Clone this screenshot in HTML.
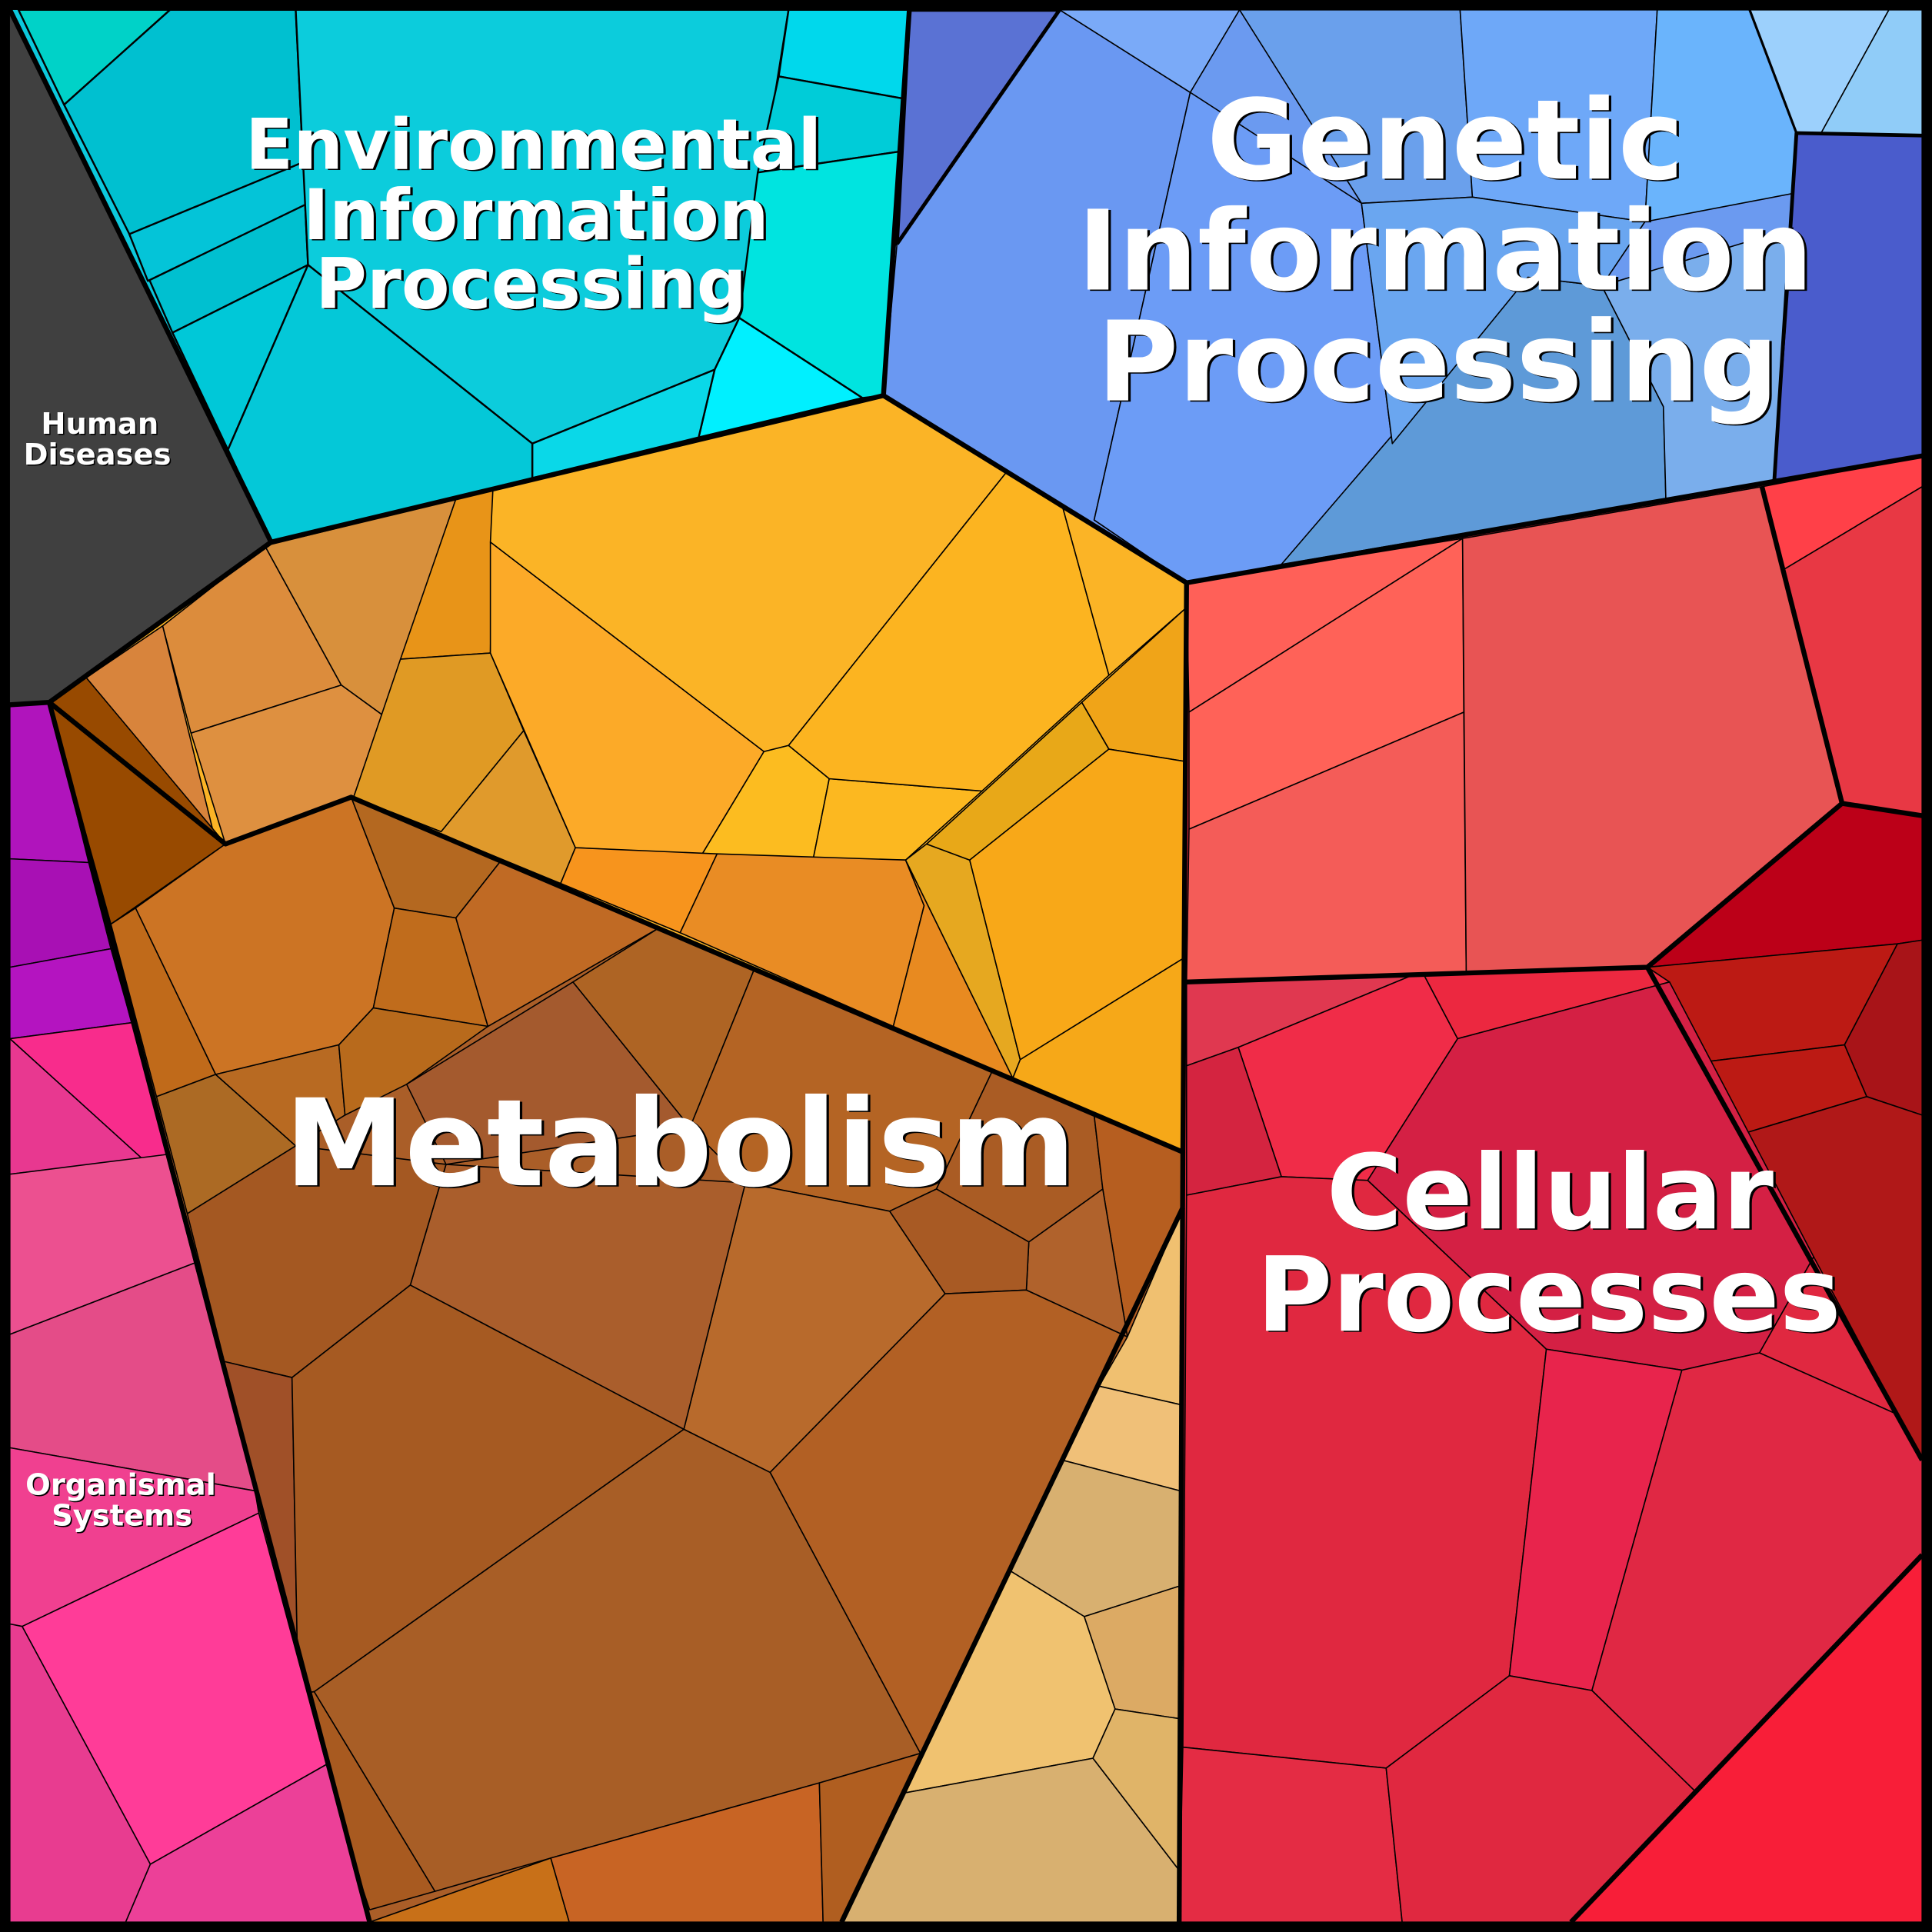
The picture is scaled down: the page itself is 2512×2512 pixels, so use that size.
<!DOCTYPE html>
<html><head><meta charset="utf-8"><style>
html,body{margin:0;padding:0;background:#000}
svg{display:block}
.t{font-family:"DejaVu Sans","Liberation Sans",sans-serif;font-weight:bold;fill:#fff;text-anchor:middle}
</style></head><body>
<svg width="2512" height="2512" viewBox="0 0 1568 1568" xmlns="http://www.w3.org/2000/svg">
<rect width="1568" height="1568" fill="#000"/>
<g stroke="none">
<polygon fill="#404040" points="8,8 220,440 40,570 8,572"/>
<polygon fill="#0cc8dc" points="8,8 738,8 717,321 220,440"/>
<polygon fill="#6b9af0" points="738,8 1560,8 1560,370 963,473 717,321"/>
<polygon fill="#fbb426" points="220,440 717,321 963,473 960,935 285,647 183,685 40,570"/>
<polygon fill="#aa5e28" points="285,647 960,935 960,980 683,1560 300,1560 90,750 183,685"/>
<polygon fill="#e0b070" points="960,980 957,1560 683,1560"/>
<polygon fill="#e0283c" points="963,473 1560,370 1560,1560 957,1560"/>
<polygon fill="#e84c8c" points="8,572 40,570 300,1560 8,1560"/>
</g>
<g stroke="#000" stroke-width="1" stroke-linejoin="round">
<g stroke-width="1.5">
<polygon fill="#00d2c8" points="15,8 138,8 52,85"/>
<polygon fill="#00c0d0" points="52,85 138,8 240,8 250,215 140,270 105,190"/>
<polygon fill="#04c4d8" points="105,190 250,130 250,165 120,228"/>
<polygon fill="#0cccdc" points="240,8 640,8 600,258 580,300 432,360 250,215"/>
<polygon fill="#00d8ec" points="640,8 738,8 733,80 632,62"/>
<polygon fill="#00ccd8" points="632,62 733,80 730,123 615,140"/>
<polygon fill="#00e4e0" points="615,140 730,123 717,321 700,323 600,258"/>
<polygon fill="#00f0ff" points="600,258 700,323 567,355 580,300"/>
<polygon fill="#0ad8e8" points="432,360 580,300 567,355 432,388"/>
<polygon fill="#00c8d8" points="140,270 250,215 185,365"/>
<polygon fill="#04c8d8" points="250,215 432,360 432,388 220,440 185,365"/>
</g>
<polygon fill="#5a72d4" points="738,8 860,8 728,198" stroke-width="3"/>
<polygon fill="#6a98f2" points="860,8 966,75 888,422 963,473 717,321 728,198"/>
<polygon fill="#7aaaf8" points="860,8 1006,8 966,75"/>
<polygon fill="#6aa0ec" points="1006,8 1185,8 1195,160 1105,165"/>
<polygon fill="#6ea8f8" points="1185,8 1345,8 1335,180 1195,160"/>
<polygon fill="#6ab4fc" points="1345,8 1420,8 1458,108 1455,157 1335,180"/>
<polygon fill="#9cd0fc" points="1420,8 1533,8 1478,108 1458,108"/>
<polygon fill="#90ccf8" points="1533,8 1560,8 1560,110 1478,108"/>
<polygon fill="#4a5ccc" points="1458,108 1560,110 1560,370 1440,390 1455,157"/>
<polygon fill="#6c9cf6" points="966,75 1105,165 1130,360 1040,458 963,473 888,422"/>
<polygon fill="#5e9ad8" points="1040,458 1240,225 1300,232 1350,330 1352,405"/>
<polygon fill="#7aaeec" points="1300,232 1455,185 1440,390 1352,405 1350,330"/>
<polygon fill="#6aa6f0" points="1105,165 1195,160 1335,180 1300,232 1240,225 1130,360"/>
<polygon fill="#dc8c3c" points="132,508 215,443 277,556 155,595"/>
<polygon fill="#d8903c" points="215,443 370,405 310,580 277,556"/>
<polygon fill="#de9040" points="155,595 277,556 310,580 287,647 183,685"/>
<polygon fill="#d8843c" points="70,550 132,508 175,683"/>
<polygon fill="#984a00" points="40,570 70,550 183,685 90,750"/>
<polygon fill="#e89418" points="370,405 400,398 398,530 325,535"/>
<polygon fill="#e09a24" points="325,535 398,530 425,593 358,675 287,647"/>
<polygon fill="#e09a2c" points="358,675 425,593 467,688 455,717 285,647"/>
<polygon fill="#fbb426" points="400,398 717,321 817,383 640,605 620,610 398,440"/>
<polygon fill="#fcaa28" points="398,440 620,610 570,693 467,688 398,530"/>
<polygon fill="#fcbc20" points="570,693 620,610 640,605 673,632 660,697"/>
<polygon fill="#fcb820" points="673,632 797,642 735,698 660,697"/>
<polygon fill="#f7941d" points="467,688 582,693 552,757 455,717"/>
<polygon fill="#e98c24" points="582,693 735,698 750,735 725,833 552,757"/>
<polygon fill="#e88a20" points="735,698 822,875 725,833 750,735"/>
<polygon fill="#e6a820" points="735,698 752,685 787,698 828,860 822,875"/>
<polygon fill="#e8a818" points="752,685 878,570 900,608 787,698"/>
<polygon fill="#f0a418" points="878,570 963,493 962,618 900,608"/>
<polygon fill="#f8a818" points="787,698 900,608 962,618 960,778 828,860"/>
<polygon fill="#f6a818" points="828,860 960,778 960,935 822,875"/>
<polygon fill="#fcb420" points="817,383 862,410 900,548 797,642 673,632 640,605"/>
<polygon fill="#fbb426" points="862,410 963,473 963,493 900,548"/>
<polygon fill="#cc7424" points="183,685 285,647 320,737 303,818 275,848 175,872 110,737"/>
<polygon fill="#c06a1a" points="90,750 110,737 175,872 127,890"/>
<polygon fill="#ac6a24" points="127,890 175,872 240,930 152,985"/>
<polygon fill="#b86a22" points="175,872 275,848 280,905 240,930"/>
<polygon fill="#b46820" points="285,647 407,698 370,745 320,737"/>
<polygon fill="#c06c1c" points="320,737 370,745 396,833 303,818"/>
<polygon fill="#c06a24" points="407,698 535,753 396,833 370,745"/>
<polygon fill="#b86a1c" points="275,848 303,818 396,833 330,880 280,905"/>
<polygon fill="#ae6424" points="535,753 612,787 560,915 465,797"/>
<polygon fill="#a45a2e" points="330,880 465,797 560,915 362,945"/>
<polygon fill="#b46424" points="612,787 805,870 760,965 722,983 605,960 560,915"/>
<polygon fill="#aa5c24" points="805,870 888,905 895,965 835,1008 760,965"/>
<polygon fill="#b65e20" points="888,905 960,935 960,980 915,1085 895,965"/>
<polygon fill="#b0622c" points="835,1008 895,965 915,1085 833,1047"/>
<polygon fill="#a85a24" points="722,983 760,965 835,1008 833,1047 767,1050"/>
<polygon fill="#b86a2c" points="605,960 722,983 767,1050 625,1195 555,1160"/>
<polygon fill="#aa5e2c" points="333,1043 362,945 605,960 555,1160"/>
<polygon fill="#a45822" points="152,985 240,930 362,945 333,1043 237,1118 182,1105"/>
<polygon fill="#a05028" points="182,1105 237,1118 242,1375"/>
<polygon fill="#a65a22" points="237,1118 333,1043 555,1160 255,1373 242,1375"/>
<polygon fill="#b26024" points="625,1195 767,1050 833,1047 915,1085 747,1423"/>
<polygon fill="#a85e26" points="255,1373 555,1160 625,1195 747,1423 665,1447 447,1508 353,1535"/>
<polygon fill="#a85a20" points="255,1373 353,1535 300,1550 242,1375"/>
<polygon fill="#c87018" points="300,1560 447,1508 462,1560"/>
<polygon fill="#c86424" points="447,1508 665,1447 668,1560 462,1560"/>
<polygon fill="#b05e20" points="665,1447 747,1423 683,1560 668,1560"/>
<polygon fill="#f0c070" points="915,1085 960,980 958,1140 892,1125"/>
<polygon fill="#f0c078" points="892,1125 958,1140 958,1210 862,1185"/>
<polygon fill="#d8b070" points="862,1185 958,1210 958,1287 880,1312 820,1275"/>
<polygon fill="#f0c270" points="820,1275 880,1312 905,1387 887,1427 735,1455"/>
<polygon fill="#dcaa64" points="880,1312 958,1287 958,1395 905,1387"/>
<polygon fill="#e0b468" points="905,1387 958,1395 957,1518 887,1427"/>
<polygon fill="#d8b070" points="735,1455 887,1427 957,1518 957,1560 683,1560"/>
<polygon fill="#ff6058" points="963,473 1187,437 965,578"/>
<polygon fill="#ff6258" points="965,578 1187,437 1188,578 965,673"/>
<polygon fill="#f45c58" points="965,673 1188,578 1190,790 963,797"/>
<polygon fill="#e85454" points="1187,437 1430,395 1495,652 1337,785 1190,790"/>
<polygon fill="#ff4048" points="1430,395 1560,370 1560,395 1448,462"/>
<polygon fill="#e83844" points="1448,462 1560,395 1560,662 1495,652"/>
<polygon fill="#bc0018" points="1337,785 1495,652 1560,662 1560,763 1540,766"/>
<polygon fill="#bc1a14" points="1337,785 1540,766 1497,848 1382,862"/>
<polygon fill="#a81418" points="1540,766 1560,763 1560,905 1515,890 1497,848"/>
<polygon fill="#bc1a14" points="1382,862 1497,848 1515,890 1415,920"/>
<polygon fill="#b01818" points="1415,920 1515,890 1560,905 1560,1185"/>
<polygon fill="#e03850" points="963,797 1145,792 1005,850 963,865"/>
<polygon fill="#f02c48" points="1005,850 1145,792 1155,790 1183,843 1110,958 1040,955"/>
<polygon fill="#ec2840" points="1155,790 1337,785 1355,797 1183,843"/>
<polygon fill="#d42044" points="1183,843 1355,797 1472,1020 1428,1098 1365,1112 1255,1095 1110,958"/>
<polygon fill="#d42440" points="963,865 1005,850 1040,955 963,970"/>
<polygon fill="#e02840" points="963,970 1040,955 1110,958 1255,1095 1225,1360 1125,1435 960,1418"/>
<polygon fill="#e02840" points="1428,1098 1472,1020 1540,1148"/>
<polygon fill="#e8244c" points="1255,1095 1365,1112 1292,1372 1225,1360"/>
<polygon fill="#e02844" points="1365,1112 1428,1098 1540,1148 1560,1185 1560,1262 1377,1455 1292,1372"/>
<polygon fill="#f81e38" points="1275,1560 1560,1262 1560,1560"/>
<polygon fill="#e42c44" points="960,1418 1125,1435 1138,1560 957,1560"/>
<polygon fill="#e02840" points="1125,1435 1225,1360 1292,1372 1377,1455 1275,1560 1138,1560"/>
<polygon fill="#b014bc" points="8,572 40,570 72,700 8,697"/>
<polygon fill="#a810b4" points="8,697 72,700 90,770 8,785"/>
<polygon fill="#b414c0" points="8,785 90,770 107,830 8,843"/>
<polygon fill="#f82c8c" points="8,843 107,830 135,937 115,940"/>
<polygon fill="#e83890" points="8,843 115,940 8,953"/>
<polygon fill="#ec5090" points="8,953 135,937 158,1025 8,1083"/>
<polygon fill="#e44c88" points="8,1083 158,1025 207,1210 8,1175"/>
<polygon fill="#f04090" points="8,1175 207,1210 210,1228 18,1320 8,1318"/>
<polygon fill="#ff3c98" points="18,1320 210,1228 265,1432 122,1513"/>
<polygon fill="#e83c90" points="8,1318 18,1320 122,1513 102,1560 8,1560"/>
<polygon fill="#ec4098" points="122,1513 265,1432 300,1560 102,1560"/>
</g>
<g fill="none" stroke="#000" stroke-width="4" stroke-linejoin="round">
<polyline points="8,8 220,440 40,570 8,572"/>
<polyline points="220,440 717,321 738,8"/>
<polyline points="717,321 963,473 1560,370"/>
<polyline points="963,473 960,935 285,647 183,685 40,570"/>
<polyline points="40,570 300,1560"/>
<polyline points="960,935 957,1560"/>
<polyline points="960,980 683,1560"/>
<polyline points="963,797 1337,785 1495,652 1560,662"/>
<polyline points="1430,395 1495,652"/>
<polyline points="1337,785 1560,1185"/>
<polyline points="1275,1560 1560,1262"/>
<polyline points="728,198 860,8" stroke-width="3"/>
<polyline points="1440,390 1458,108 1560,110" stroke-width="3"/>
<polyline points="1420,8 1458,108" stroke-width="2"/>
<rect x="4" y="4" width="1560" height="1560" stroke-width="8"/>
</g>
<g fill="#000" font-family="DejaVu Sans, Liberation Sans, sans-serif" font-weight="bold" text-anchor="middle">
<text x="435" y="138" font-size="57">Environmental</text>
<text x="437" y="195" font-size="57">Information</text>
<text x="433" y="251" font-size="57">Processing</text>
<text x="1175" y="146" font-size="90">Genetic</text>
<text x="1175" y="236" font-size="90">Information</text>
<text x="1169" y="326" font-size="90">Processing</text>
<text x="554" y="963" font-size="98">Metabolism</text>
<text x="1260" y="998" font-size="84">Cellular</text>
<text x="1259" y="1081" font-size="84">Processes</text>
<text x="82" y="353" font-size="24">Human</text>
<text x="80" y="378" font-size="24">Diseases</text>
<text x="99" y="1214" font-size="24">Organismal</text>
<text x="100" y="1239" font-size="24">Systems</text>
</g>
<g class="t">
<text x="433" y="137" font-size="57">Environmental</text>
<text x="435" y="194" font-size="57">Information</text>
<text x="431" y="250" font-size="57">Processing</text>
<text x="1173" y="145" font-size="90">Genetic</text>
<text x="1173" y="235" font-size="90">Information</text>
<text x="1167" y="325" font-size="90">Processing</text>
<text x="552" y="962" font-size="98">Metabolism</text>
<text x="1258" y="997" font-size="84">Cellular</text>
<text x="1257" y="1080" font-size="84">Processes</text>
<text x="81" y="352" font-size="24">Human</text>
<text x="79" y="377" font-size="24">Diseases</text>
<text x="98" y="1213" font-size="24">Organismal</text>
<text x="99" y="1238" font-size="24">Systems</text>
</g>
</svg>
</body></html>
